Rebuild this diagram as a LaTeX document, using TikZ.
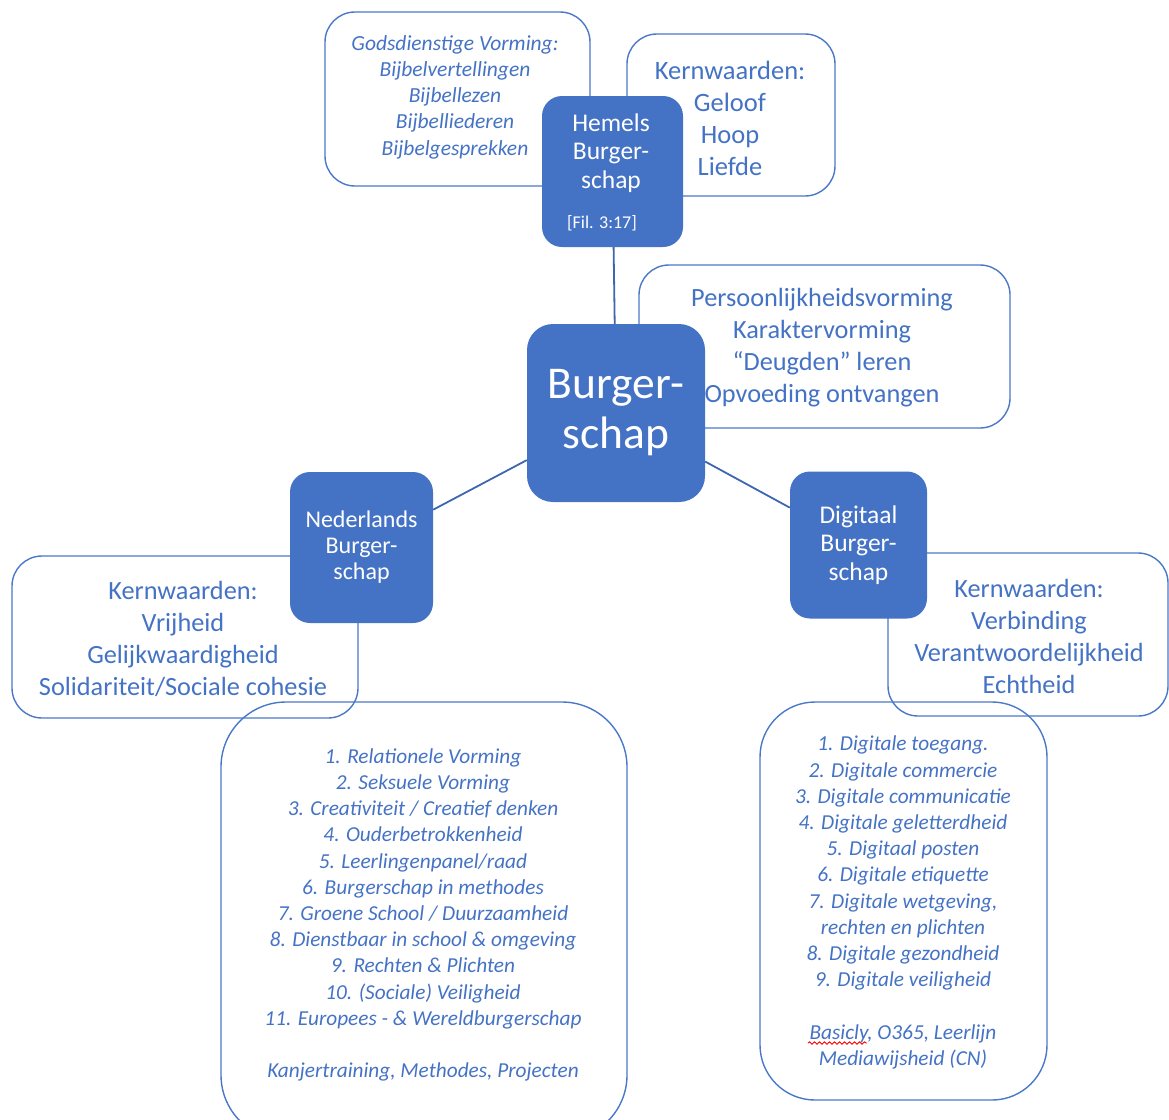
\documentclass[tikz,border=0pt]{standalone}
\usepackage{fontspec}
\setmainfont{Carlito}
\usetikzlibrary{decorations.pathmorphing}
\definecolor{bblue}{HTML}{4472C4}
\definecolor{lblue}{HTML}{4A78C8}
\definecolor{cblue}{HTML}{3E66B0}
\tikzset{
  outbox/.style={draw=lblue, line width=1.4pt, fill=none, inner sep=0pt},
  bluebox/.style={fill=bblue, draw=none, text=white, align=center, inner sep=0pt},
  txt/.style={text=bblue, align=center, inner sep=0pt},
  conn/.style={draw=cblue, line width=1.8pt}
}
\begin{document}
\begin{tikzpicture}[x=1pt,y=-1pt]
\useasboundingbox (0,0) rectangle (1169,1119);
\clip (0,0) rectangle (1169,1119);
% outline boxes
\node[outbox, rounded corners=30pt, minimum width=265, minimum height=174] (godbox) at (457.5,99) {};
\node[outbox, rounded corners=30pt, minimum width=208, minimum height=162] (kwtopbox) at (731,115) {};
\node[outbox, rounded corners=30pt, minimum width=371, minimum height=163] (persbox) at (824.5,346.5) {};
\node[outbox, rounded corners=30pt, minimum width=346, minimum height=162] (kwnlbox) at (185,637) {};
\node[outbox, rounded corners=30pt, minimum width=280, minimum height=163] (kwdigbox) at (1028,634.5) {};
\node[outbox, rounded corners=65pt, minimum width=406, minimum height=438] (nllistbox) at (424,921) {};
\node[outbox, rounded corners=55pt, minimum width=287, minimum height=398] (diglistbox) at (903.5,901) {};
% blue boxes
\node[bluebox, rounded corners=20pt, minimum width=141, minimum height=151] (hemels) at (612.5,171.5) {};
\node[bluebox, rounded corners=26pt, minimum width=178, minimum height=178, font=\fontsize{45.5}{50}\selectfont] (burger) at (616,413) {Burger-\\schap};
\node[bluebox, rounded corners=20pt, minimum width=143, minimum height=151, font=\fontsize{24}{26}\selectfont] (nl) at (361.5,547.5) {Nederlands\\Burger-\\schap};
\node[bluebox, rounded corners=20pt, minimum width=137, minimum height=147, font=\fontsize{25.5}{28.5}\selectfont] (dig) at (858.5,545) {Digitaal\\Burger-\\schap};
% connectors
\draw[conn] (hemels) -- (burger);
\draw[conn] (burger) -- (nl);
\draw[conn] (burger) -- (dig);
% texts
\node[txt, text=white, font=\fontsize{25.5}{28.5}\selectfont] (hemelstxt) at (611,153) {Hemels\\Burger-\\schap};
\node[txt, text=white, font=\fontsize{18}{20}\selectfont] (fil) at (602,223) {[Fil. 3:17]};
\node[txt, font=\itshape\fontsize{21.5}{26.2}\selectfont] (godtxt) at (455,97) {Godsdienstige Vorming:\\Bijbelvertellingen\\Bijbellezen\\Bijbelliederen\\Bijbelgesprekken};
\node[txt, font=\fontsize{26.5}{32}\selectfont] (kwtoptxt) at (730,118) {Kernwaarden:\\Geloof\\Hoop\\Liefde};
\node[txt, font=\fontsize{26.3}{32}\selectfont] (perstxt) at (822,348) {Persoonlijkheidsvorming\\Karaktervorming\\“Deugden” leren\\Opvoeding ontvangen};
\node[txt, font=\fontsize{26.3}{32}\selectfont] (kwnltxt) at (183,639) {Kernwaarden:\\Vrijheid\\Gelijkwaardigheid\\Solidariteit/Sociale cohesie};
\node[txt, font=\fontsize{26.3}{32}\selectfont] (kwdigtxt) at (1029,636) {Kernwaarden:\\Verbinding\\Verantwoordelijkheid\\Echtheid};
\node[txt, font=\itshape\fontsize{21.3}{26.2}\selectfont] (nllisttxt) at (423,915) {1. Relationele Vorming\\2. Seksuele Vorming\\3. Creativiteit / Creatief denken\\4. Ouderbetrokkenheid\\5. Leerlingenpanel/raad\\6. Burgerschap in methodes\\7. Groene School / Duurzaamheid\\8. Dienstbaar in school \& omgeving\\9. Rechten \& Plichten\\10. (Sociale) Veiligheid\\11. Europees - \& Wereldburgerschap\\[26.2pt]Kanjertraining, Methodes, Projecten};
\node[txt, font=\itshape\fontsize{21.3}{26.2}\selectfont] (diglisttxt) at (903,902.5) {1. Digitale toegang.\\2. Digitale commercie\\3. Digitale communicatie\\4. Digitale geletterdheid\\5. Digitaal posten\\6. Digitale etiquette\\7. Digitale wetgeving,\\rechten en plichten\\8. Digitale gezondheid\\9. Digitale veiligheid\\[26.2pt]Basicly, O365, Leerlijn\\Mediawijsheid (CN)};
\draw[red, line width=0.9pt, decorate, decoration={snake, segment length=5pt, amplitude=1.2pt}] (808,1043) -- (867,1043);
\end{tikzpicture}
\end{document}
